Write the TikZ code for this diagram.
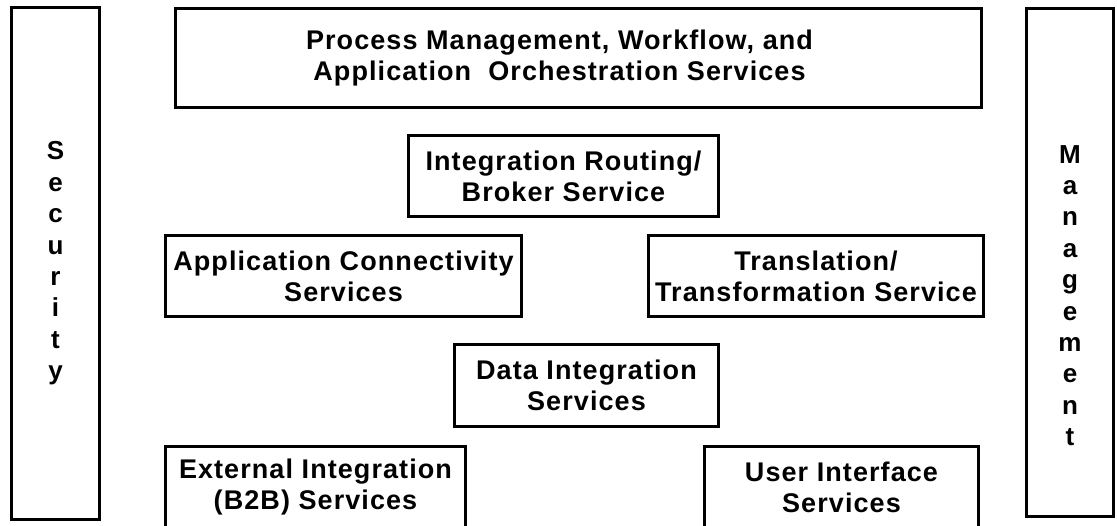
\documentclass[tikz,border=0pt]{standalone}
\usepackage{fontspec}
\newfontfamily\lbl{Liberation Sans}[LetterSpace=4]
\tikzset{
  box/.style={draw=black, line width=2.6pt, inner sep=0pt, align=center,
    font=\lbl\bfseries\fontsize{27}{31}\selectfont},
  vtext/.style={inner sep=0pt, align=center, anchor=north,
    font=\lbl\bfseries\fontsize{26}{31.4}\selectfont}
}
\begin{document}
\begin{tikzpicture}[x=1pt,y=-1pt]
\useasboundingbox (0,0) rectangle (1117,526);
\clip (0,0) rectangle (1117,526);
\fill[white] (0,0) rectangle (1117,526);

\node[box, minimum width=88pt, minimum height=512pt] (sec) at (55.5,263.5) {};
\node[vtext] (secT) at (55.5,141.5) {S\\e\\c\\u\\r\\i\\t\\y};

\node[box, minimum width=87pt, minimum height=508pt] (mgmt) at (1070,262.5) {};
\node[vtext] (mgmtT) at (1070,145) {M\\a\\n\\a\\g\\e\\m\\e\\n\\t};

\node[box, minimum width=806pt, minimum height=99pt] (proc) at (578.5,58)
  {Process Management, Workflow, and\hspace*{38pt}\\Application\ \ Orchestration Services\hspace*{38pt}};

\node[box, minimum width=310pt, minimum height=81pt] (route) at (563.5,176)
  {Integration Routing/\\Broker Service};

\node[box, minimum width=356pt, minimum height=81pt] (app) at (343.5,276)
  {Application Connectivity\\Services};

\node[box, minimum width=335pt, minimum height=81pt] (trans) at (816,276)
  {Translation/\\Transformation Service};

\node[box, minimum width=264pt, minimum height=82pt] (data) at (586.5,385.5)
  {Data Integration\\Services};

\node[box, minimum width=300pt, minimum height=82pt] (ext) at (315.5,487.5)
  {External Integration\\(B2B) Services};

\node[box, minimum width=274pt, minimum height=82pt] (ui) at (841.5,487.5)
  {User Interface\\Services};
\end{tikzpicture}
\end{document}
